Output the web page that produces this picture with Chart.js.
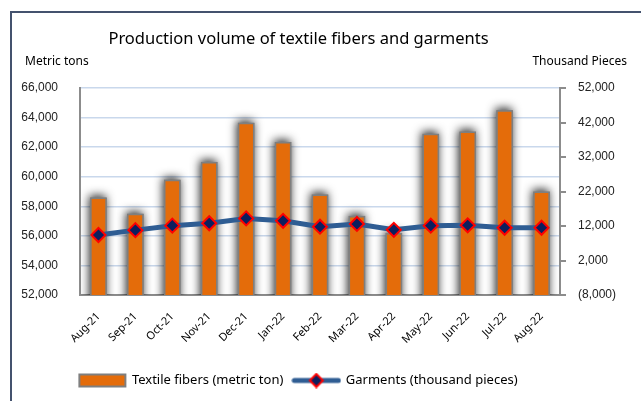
<!DOCTYPE html>
<html>
<head>
<meta charset="utf-8">
<script src="https://cdn.jsdelivr.net/npm/chart.js@4/dist/chart.umd.min.js"></script>
<style>
  html, body { margin: 0; padding: 0; background: #ffffff; }
  #wrap { position: relative; width: 641px; height: 401px; overflow: hidden; }
  #frame { position: absolute; left: 10px; top: 11px; width: 700px; height: 500px;
           border-left: 2px solid #44526e; border-top: 2px solid #44526e; box-sizing: border-box; }
  canvas { position: absolute; left: 0; top: 0; }
</style>
</head>
<body>
<div id="wrap">
  <div id="frame"></div>
  <canvas id="c" width="641" height="401"></canvas>
</div>
<script>
// ---- data ----
const categories = ["Aug-21","Sep-21","Oct-21","Nov-21","Dec-21","Jan-22","Feb-22","Mar-22","Apr-22","May-22","Jun-22","Jul-22","Aug-22"];
const textileFibers = [58600, 57500, 59800, 61000, 63650, 62350, 58800, 57350, 56200, 62900, 63050, 64500, 59000];
const garments = [9400, 10800, 12100, 12800, 14200, 13500, 11800, 12600, 10900, 12100, 12200, 11500, 11500];
const leftTicks = [52000, 54000, 56000, 58000, 60000, 62000, 64000, 66000];
const rightTicks = [-8000, 2000, 12000, 22000, 32000, 42000, 52000];
const seriesNames = ["Textile fibers (metric ton)", "Garments (thousand pieces)"];
const titleText = "Production volume of textile fibers and garments";
const leftUnit = "Metric tons";
const rightUnit = "Thousand Pieces";

// ---- styles ----
const ORANGE = "#e46c0a";
const BAR_BORDER = "#7f7f7f";
const LINE_BLUE = "#2f5d93";
const NAVY = "#0c1f5e";
const RED = "#ff0000";
const GRID = "#c9d8ec";
const AXIS = "#8c8c8c";

function fmt(v) {
  const s = Math.abs(v).toLocaleString("en-US");
  return v < 0 ? "(" + s + ")" : s;
}

// legend image for line series
const lineImg = document.createElement("canvas");
lineImg.width = 50; lineImg.height = 16;
(function () {
  const g = lineImg.getContext("2d");
  g.strokeStyle = LINE_BLUE; g.lineWidth = 5; g.lineCap = "round";
  g.beginPath(); g.moveTo(3, 8); g.lineTo(47, 8); g.stroke();
  g.beginPath(); g.moveTo(25, 1.5); g.lineTo(31.5, 8); g.lineTo(25, 14.5); g.lineTo(18.5, 8); g.closePath();
  g.fillStyle = NAVY; g.fill(); g.strokeStyle = RED; g.lineWidth = 2; g.stroke();
})();

// soft shadow behind bars, drawn from the bar elements the library laid out
const shadowPlugin = {
  id: "barShadow",
  beforeDatasetDraw(chart, args) {
    if (args.index !== 0) return;
    const ctx = chart.ctx;
    const a = chart.chartArea;
    ctx.save();
    ctx.beginPath();
    ctx.rect(a.left, a.top - 10, a.right - a.left, a.bottom - a.top + 10);
    ctx.clip();
    ctx.shadowColor = "rgba(0,0,0,0.85)";
    ctx.shadowBlur = 10;
    ctx.shadowOffsetX = -1;
    ctx.shadowOffsetY = -2;
    ctx.fillStyle = "#808080";
    args.meta.data.forEach(el => {
      const p = el.getProps(["x", "y", "base", "width"], true);
      ctx.fillRect(p.x - p.width / 2, p.y, p.width, p.base - p.y);
    });
    ctx.restore();
  }
};

// let the right axis labels draw past its narrow box
const labelAreaPlugin = {
  id: "labelArea",
  beforeDraw(chart) {
    const s = chart.scales.y1;
    if (s) s._computeLabelArea = function () { return undefined; };
  }
};

const unitPlugin = {
  id: "units",
  afterDraw(chart) {
    const ctx = chart.ctx;
    ctx.save();
    ctx.font = "12px 'Noto Sans'";
    ctx.fillStyle = "#000";
    ctx.textBaseline = "middle";
    ctx.textAlign = "left";
    ctx.fillText(leftUnit, 25, 62);
    ctx.textAlign = "right";
    ctx.fillText(rightUnit, 627, 62);
    ctx.restore();
  }
};

new Chart(document.getElementById("c"), {
  type: "bar",
  data: {
    labels: categories,
    datasets: [
      {
        type: "bar",
        label: seriesNames[0],
        data: textileFibers,
        yAxisID: "y",
        backgroundColor: ORANGE,
        borderColor: BAR_BORDER,
        borderWidth: 1.5,
        barPercentage: 0.45,
        categoryPercentage: 1.0,
        order: 1
      },
      {
        type: "line",
        label: seriesNames[1],
        data: garments,
        yAxisID: "y1",
        borderColor: LINE_BLUE,
        borderWidth: 5,
        tension: 0,
        pointStyle: "rectRot",
        pointRadius: 7,
        pointBackgroundColor: NAVY,
        pointBorderColor: RED,
        pointBorderWidth: 2,
        order: 0
      }
    ]
  },
  options: {
    responsive: false,
    animation: false,
    layout: { padding: { top: 20, left: 0, right: 44, bottom: 4 } },
    plugins: {
      title: {
        display: true,
        text: titleText,
        color: "#000",
        font: { family: "'Noto Sans'", size: 16.5, weight: "normal", lineHeight: 1.2 },
        padding: { top: 9.5, bottom: 38.7 }
      },
      legend: {
        position: "bottom",
        labels: {
          usePointStyle: true,
          pointStyleWidth: 46,
          boxHeight: 12,
          padding: 10,
          color: "#000",
          font: { family: "'Noto Sans'", size: 13 },
          generateLabels(chart) {
            const items = Chart.defaults.plugins.legend.labels.generateLabels(chart);
            items.sort((a, b) => a.datasetIndex - b.datasetIndex);
            items.forEach(it => {
              if (it.datasetIndex === 0) {
                it.pointStyle = "rect";
                it.fillStyle = ORANGE;
                it.strokeStyle = BAR_BORDER;
                it.lineWidth = 2;
              } else {
                it.pointStyle = lineImg;
              }
            });
            return items;
          }
        }
      },
      tooltip: { enabled: false }
    },
    scales: {
      x: {
        offset: true,
        grid: { display: false },
        border: { color: AXIS, width: 2 },
        ticks: {
          autoSkip: false,
          maxRotation: 45,
          minRotation: 45,
          padding: 7,
          color: "#000",
          font: { family: "'Noto Sans'", size: 11 }
        },
        afterFit(s) { s.height = 69; }
      },
      y: {
        position: "left",
        min: 52000,
        max: 66000,
        afterBuildTicks(s) { s.ticks = leftTicks.map(v => ({ value: v })); },
        grid: { color: GRID, lineWidth: 1.5, drawTicks: false },
        border: { color: AXIS, width: 2 },
        ticks: {
          padding: 22,
          color: "#222",
          font: { family: "'Liberation Sans'", size: 12 },
          callback: v => fmt(v)
        },
        afterFit(s) { s.width = 80; }
      },
      y1: {
        position: "right",
        min: -8000,
        max: 52000,
        afterBuildTicks(s) { s.ticks = rightTicks.map(v => ({ value: v })); },
        grid: { drawOnChartArea: false, color: AXIS, lineWidth: 2, tickLength: 6 },
        border: { color: AXIS, width: 2 },
        ticks: {
          padding: 12,
          color: "#222",
          font: { family: "'Liberation Sans'", size: 12 },
          callback: v => fmt(v)
        },
        afterFit(s) { s.width = 37; }
      }
    }
  },
  plugins: [shadowPlugin, labelAreaPlugin, unitPlugin]
});
</script>
</body>
</html>
